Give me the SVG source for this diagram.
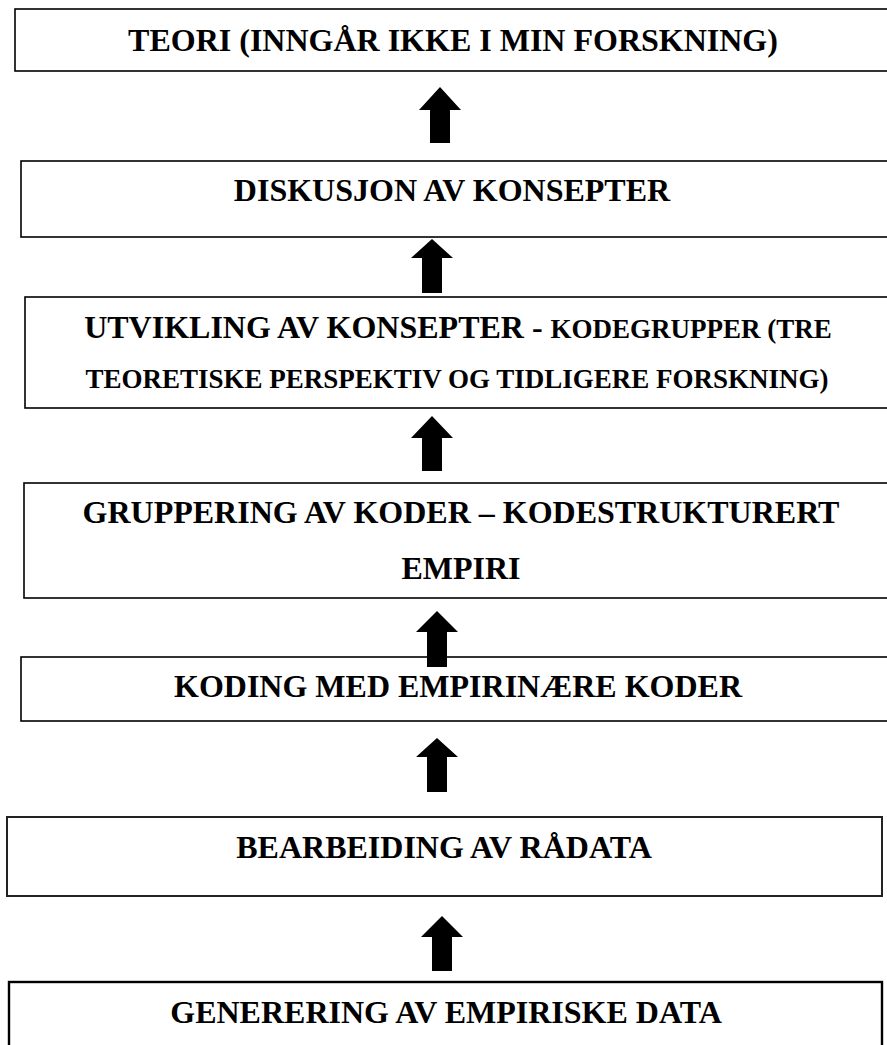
<svg xmlns="http://www.w3.org/2000/svg" width="887" height="1045" viewBox="0 0 887 1045">
<style>
.box{fill:#fff;stroke:#000;stroke-width:1.6}
.t{font-family:"Liberation Serif","Times New Roman",serif;font-weight:bold;font-size:32px;fill:#000;text-anchor:middle}
.s{font-size:27px}
.arr{fill:#000}
</style>
<rect x="0" y="0" width="887" height="1045" fill="#fff"/>
<g id="n1"><rect class="box" x="15" y="9" width="890" height="62"/><text class="t" x="453" y="51">TEORI (INNGÅR IKKE I MIN FORSKNING)</text></g>
<g id="n2"><rect class="box" x="21" y="161" width="890" height="76"/><text class="t" x="452" y="201">DISKUSJON AV KONSEPTER</text></g>
<g id="n3"><rect class="box" x="25" y="297" width="890" height="111"/><text class="t" x="458" y="338">UTVIKLING AV KONSEPTER - <tspan class="s">KODEGRUPPER (TRE</tspan></text><text class="t s" x="457" y="388">TEORETISKE PERSPEKTIV OG TIDLIGERE FORSKNING)</text></g>
<g id="n4"><rect class="box" x="24" y="483" width="890" height="115"/><text class="t" x="461" y="523">GRUPPERING AV KODER – KODESTRUKTURERT</text><text class="t" x="461" y="579">EMPIRI</text></g>
<g id="n5"><rect class="box" x="21" y="657" width="890" height="64"/><text class="t" x="458" y="697">KODING MED EMPIRINÆRE KODER</text></g>
<g id="n6"><rect class="box" x="7" y="817" width="875" height="79" style="stroke:#222;stroke-width:2"/><text class="t" x="444" y="858">BEARBEIDING AV RÅDATA</text></g>
<g id="n7"><rect class="box" x="9" y="982" width="873" height="80" style="stroke-width:2.4"/><text class="t" x="446" y="1023">GENERERING AV EMPIRISKE DATA</text></g>
<g id="connectors">
<polygon class="arr" points="440,87 461,110 450,110 450,143 430,143 430,110 419,110"/>
<polygon class="arr" points="432,239 453,258 442,258 442,293 422,293 422,258 411,258"/>
<polygon class="arr" points="432,416 453,438 442,438 442,471 422,471 422,438 411,438"/>
<polygon class="arr" points="437,611 458,632 447,632 447,667 427,667 427,632 416,632"/>
<polygon class="arr" points="437,738 458,757 447,757 447,792 427,792 427,757 416,757"/>
<polygon class="arr" points="442,916 463,937 452,937 452,971 432,971 432,937 421,937"/>
</g>
</svg>
